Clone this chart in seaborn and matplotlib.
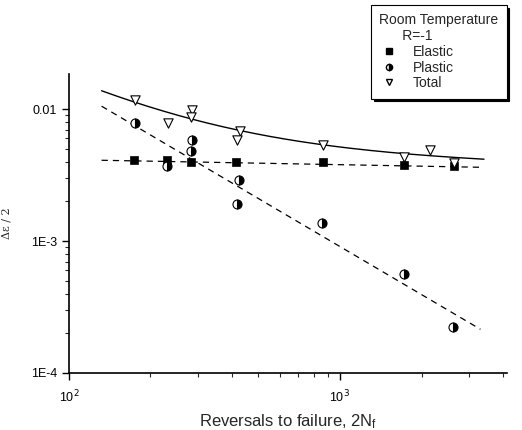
import numpy as np
import matplotlib
matplotlib.use("Agg")
import matplotlib.pyplot as plt
import matplotlib.ticker as mticker
from matplotlib.lines import Line2D
import seaborn as sns

# ---- data ----
total_n = [175, 232, 284, 282, 428, 417, 865, 1722, 2148, 2636]
total_eps = [0.0117, 0.00783, 0.0098, 0.0087, 0.0068, 0.0058, 0.00532, 0.00431, 0.00487, 0.0039]

elastic_n = [174, 230, 283, 415, 865, 1722, 2630]
elastic_eps = [0.0041, 0.00415, 0.0040, 0.0040, 0.0040, 0.00375, 0.0037]

plastic_n = [175, 230, 284, 282, 424, 418, 860, 1720, 2620]
plastic_eps = [0.0078, 0.0037, 0.0058, 0.0048, 0.0029, 0.0019, 0.00138, 0.000566, 0.000224]

# fitted curves (power laws, reference at 2Nf = 132)
n_ref = 132
elastic_fit = (0.0041, -0.038)
plastic_fit = (0.01054, -1.21)
total_fit = [(0.0046, -0.05), (0.0092, -1.09)]

sns.set_style("ticks")
plt.rcParams["font.family"] = ["Liberation Sans", "DejaVu Sans"]

fig = plt.figure(figsize=(5.22, 4.30), dpi=100)
ax = fig.add_axes([0.132, 0.1326, 0.839, 0.6954])

nn = np.logspace(np.log10(n_ref), np.log10(3300), 200)
nt = np.logspace(np.log10(n_ref), np.log10(3400), 200)
el_curve = elastic_fit[0] * (nn / n_ref) ** elastic_fit[1]
pl_curve = plastic_fit[0] * (nn / n_ref) ** plastic_fit[1]
tot_curve = sum(a * (nt / n_ref) ** b for a, b in total_fit)

sns.lineplot(x=nn, y=el_curve, ax=ax, color="black", lw=0.9,
             linestyle=(0, (5, 4)))
sns.lineplot(x=nn, y=pl_curve, ax=ax, color="black", lw=0.9,
             linestyle=(0, (5, 4)))
sns.lineplot(x=nt, y=tot_curve, ax=ax, color="black", lw=1.0)

sns.scatterplot(x=elastic_n, y=elastic_eps, ax=ax, marker="s", s=36,
                color="black", edgecolor="black", zorder=5)
ax.plot(plastic_n, plastic_eps, linestyle="none", marker="o", markersize=6.5,
        fillstyle="right", markerfacecolor="black", markerfacecoloralt="white",
        markeredgecolor="black", markeredgewidth=0.8, zorder=5)
sns.scatterplot(x=total_n, y=total_eps, ax=ax, marker="v", s=45,
                facecolor="white", edgecolor="black", linewidth=0.8, zorder=5)

ax.set_xscale("log")
ax.set_yscale("log")
ax.set_xlim(100, 4130)
ax.set_ylim(1e-4, 0.0185)

ax.yaxis.set_major_locator(mticker.FixedLocator([1e-4, 1e-3, 1e-2]))
ax.set_yticklabels(["1E-4", "1E-3", "0.01"])
ax.yaxis.set_minor_locator(mticker.LogLocator(subs=np.arange(2, 10)))
ax.yaxis.set_minor_formatter(mticker.NullFormatter())
ax.xaxis.set_major_locator(mticker.FixedLocator([100, 1000]))
ax.set_xticklabels(["10$^2$", "10$^3$"])
ax.xaxis.set_minor_locator(mticker.LogLocator(subs=np.arange(2, 10)))
ax.xaxis.set_minor_formatter(mticker.NullFormatter())

ax.tick_params(which="major", direction="out", length=5, width=1, labelsize=9, colors="black")
ax.tick_params(axis="x", which="major", pad=6)
ax.tick_params(which="minor", direction="out", length=3, width=0.8)
for side in ["left", "bottom"]:
    ax.spines[side].set_linewidth(1.2)
    ax.spines[side].set_color("black")
sns.despine(ax=ax)

ax.set_xlabel("Reversals to failure, 2N$\\mathregular{_f}$", fontsize=12, labelpad=5)
ax.set_ylabel("Δε / 2", fontsize=8, family=["DejaVu Serif"], labelpad=14)

handles = [
    Line2D([], [], linestyle="none", marker="s", markersize=4.5, color="black"),
    Line2D([], [], linestyle="none", marker="o", markersize=4.5, fillstyle="right",
           markerfacecolor="black", markerfacecoloralt="white", markeredgecolor="black"),
    Line2D([], [], linestyle="none", marker="v", markersize=5, markerfacecolor="white",
           markeredgecolor="black"),
]
leg = fig.legend(handles, ["Elastic", "Plastic", "Total"],
                 title="Room Temperature\n      R=-1", loc="upper right",
                 bbox_to_anchor=(0.984, 1.005), fontsize=10, title_fontsize=10,
                 frameon=True, fancybox=False, shadow={"color": "black", "alpha": 1},
                 handletextpad=1.0, labelspacing=0.12, borderpad=0.6,
                 handlelength=1.4)
leg._legend_box.align = "left"
leg.get_frame().set_edgecolor("black")
leg.get_frame().set_linewidth(0.8)

fig.savefig("out.png", dpi=100)
